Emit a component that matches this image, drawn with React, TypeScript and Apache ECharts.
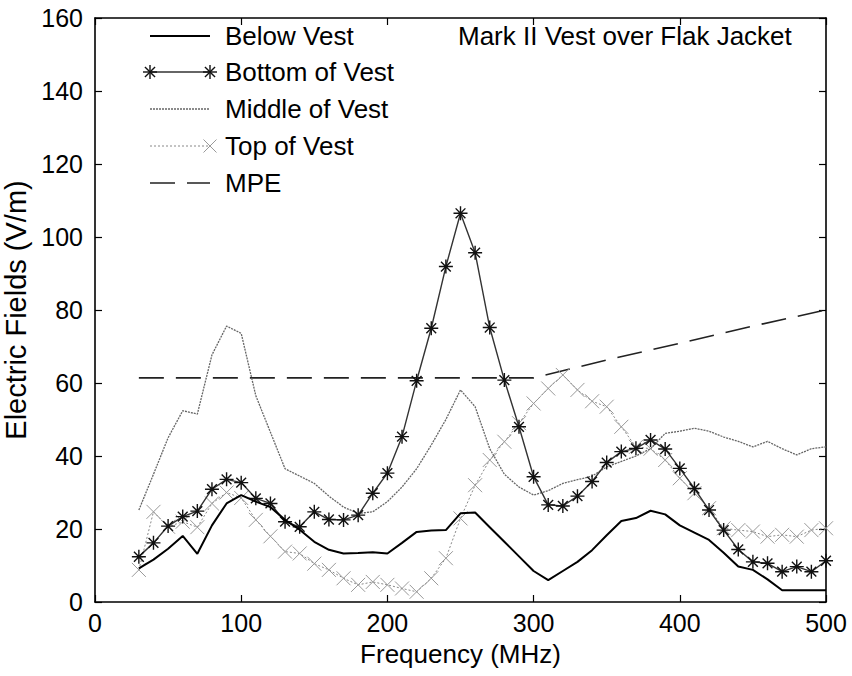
import React, { useEffect, useRef } from 'react';
import * as echarts from 'echarts';

const frequencies = [
  30, 40, 50, 60, 70, 80, 90, 100, 110, 120,
  130, 140, 150, 160, 170, 180, 190, 200, 210, 220,
  230, 240, 250, 260, 270, 280, 290, 300, 310, 320,
  330, 340, 350, 360, 370, 380, 390, 400, 410, 420,
  430, 440, 450, 460, 470, 480, 490, 500,
];
const belowVest = [
  9.2, 11.6, 14.6, 18.1, 13.2, 21, 27, 29.3, 27.5, 26,
  22.5, 19.8, 16.5, 14.3, 13.3, 13.4, 13.6, 13.3, 16.2, 19.2,
  19.6, 19.7, 24.3, 24.5, 20.5, 16.5, 12.5, 8.5, 6, 8.5,
  11, 14.2, 18.3, 22.2, 23, 25, 24, 21, 19, 17,
  13.5, 9.7, 8.8, 6.2, 3.2, 3.2, 3.2, 3.2,
];
const bottomOfVest = [
  12.4, 16.2, 20.8, 23.4, 24.9, 30.9, 33.6, 32.7, 28.4, 27,
  22, 20.6, 24.7, 22.6, 22.5, 23.8, 29.8, 35.3, 45.3, 60.6,
  75, 91.9, 106.5, 95.7, 75.2, 60.8, 48, 34.3, 26.6, 26.3,
  29, 33, 38.2, 41.2, 42.1, 44.4, 41.9, 36.6, 31.1, 25.2,
  19.7, 14.4, 11, 10.6, 8.3, 9.7, 8.3, 11.3,
];
const middleOfVest = [
  25.2, 35, 45, 52.4, 51.5, 67.7, 75.6, 73.6, 56.5, 46.5,
  36.5, 34.5, 32.5, 29, 26, 24.3, 24.7, 27.5, 31.5, 36.5,
  43, 50, 58.1, 53.5, 42, 35, 31.5, 29.3, 30.5, 32.5,
  33.5, 34.5, 37, 38.5, 40, 42, 46.2, 46.8, 47.6, 46.8,
  45.2, 44, 42.5, 44, 42, 40.3, 42, 42.5,
];
const topOfVest = [
  8.8, 24.7, 20.6, 22, 20.5, 27, 30, 28.5, 22.5, 18,
  13.8, 13.3, 10.5, 8.8, 6.5, 4.7, 5.5, 4.7, 3.7, 2.8,
  6.5, 12, 22.9, 32, 38.9, 43.9, 49, 54.4, 58.5, 62.2,
  58.1, 55, 53.5, 48, 42.5, 42, 38.9, 33.9, 29.8, 25.7,
  20.2, 19.7, 19.3, 17.9, 18.4, 17.9, 19.7, 20.2,
];
const mpeFrequencies = [30, 300, 350, 400, 450, 500];
const mpeValues = [61.4, 61.4, 66.3, 70.9, 75.6, 80];

const seriesNames = ['Below Vest', 'Bottom of Vest', 'Middle of Vest', 'Top of Vest', 'MPE'];
const annotation = 'Mark II Vest over Flak Jacket';
const xAxisTitle = 'Frequency (MHz)';
const yAxisTitle = 'Electric Fields (V/m)';

const FONT = '"Liberation Sans", Arial, Helvetica, sans-serif';
const ASTERISK = 'path://M5,0L5,10M0,5L10,5M1.5,1.5L8.5,8.5M1.5,8.5L8.5,1.5';
const CROSS = 'path://M0,0L10,10M0,10L10,0';

const pairs = (xs: number[], ys: number[]) => xs.map((x, i) => [x, ys[i]]);

function asteriskGraphic(cx: number, cy: number, r: number, color: string) {
  const d = r * 0.72;
  const st = { stroke: color, lineWidth: 1.4 };
  return {
    type: 'group',
    children: [
      { type: 'line', shape: { x1: cx - r, y1: cy, x2: cx + r, y2: cy }, style: st },
      { type: 'line', shape: { x1: cx, y1: cy - r, x2: cx, y2: cy + r }, style: st },
      { type: 'line', shape: { x1: cx - d, y1: cy - d, x2: cx + d, y2: cy + d }, style: st },
      { type: 'line', shape: { x1: cx - d, y1: cy + d, x2: cx + d, y2: cy - d }, style: st },
    ],
  };
}
function crossGraphic(cx: number, cy: number, r: number, color: string) {
  const st = { stroke: color, lineWidth: 1 };
  return {
    type: 'group',
    children: [
      { type: 'line', shape: { x1: cx - r, y1: cy - r, x2: cx + r, y2: cy + r }, style: st },
      { type: 'line', shape: { x1: cx - r, y1: cy + r, x2: cx + r, y2: cy - r }, style: st },
    ],
  };
}

export default function App() {
  const ref = useRef<HTMLDivElement>(null);
  useEffect(() => {
    if (!ref.current) return;
    const chart = echarts.init(ref.current, undefined, { renderer: 'svg' });
    const lx1 = 150, lx2 = 210, tx = 225;
    const rows = [36, 72, 109, 146, 183];
    const legendGraphics: any[] = [
      { type: 'line', shape: { x1: lx1, y1: rows[0], x2: lx2, y2: rows[0] }, style: { stroke: '#000', lineWidth: 1.8 } },
      { type: 'line', shape: { x1: lx1, y1: rows[1], x2: lx2, y2: rows[1] }, style: { stroke: '#333', lineWidth: 1.4 } },
      asteriskGraphic(lx1, rows[1], 7, '#111'),
      asteriskGraphic(lx2, rows[1], 7, '#111'),
      { type: 'line', shape: { x1: lx1, y1: rows[2], x2: lx2, y2: rows[2] }, style: { stroke: '#666', lineWidth: 1.3, lineDash: [2, 1] } },
      { type: 'line', shape: { x1: lx1, y1: rows[3], x2: lx2, y2: rows[3] }, style: { stroke: '#888', lineWidth: 1, lineDash: [2, 2] } },
      crossGraphic(lx2, rows[3], 6.5, '#999'),
      { type: 'line', shape: { x1: lx1, y1: rows[4], x2: lx2, y2: rows[4] }, style: { stroke: '#222', lineWidth: 1.6, lineDash: [25, 12] } },
      ...seriesNames.map((n, i) => ({
        type: 'text', x: tx, y: rows[i],
        style: { text: n, font: `26px ${FONT}`, fill: '#000', textVerticalAlign: 'middle', textAlign: 'left' },
      })),
      {
        type: 'text', x: 458, y: rows[0],
        style: { text: annotation, font: `26px ${FONT}`, fill: '#000', textVerticalAlign: 'middle', textAlign: 'left' },
      },
    ];
    const axisCommonX = {
      type: 'value', min: 0, max: 500, interval: 100,
      axisLine: { show: true, onZero: false, lineStyle: { color: '#000', width: 1.6 } },
      axisTick: { show: true, inside: true, length: 7, lineStyle: { color: '#000', width: 1.2 } },
      splitLine: { show: false },
    };
    const axisCommonY = {
      type: 'value', min: 0, max: 160, interval: 20,
      axisLine: { show: true, onZero: false, lineStyle: { color: '#000', width: 1.6 } },
      axisTick: { show: true, inside: true, length: 7, lineStyle: { color: '#000', width: 1.2 } },
      splitLine: { show: false },
    };
    chart.setOption({
      animation: false,
      backgroundColor: '#fff',
      grid: { left: 95, right: 26, top: 18, bottom: 74, containLabel: false, outerBoundsMode: 'none' },
      xAxis: [
        {
          ...axisCommonX, position: 'bottom',
          name: xAxisTitle, nameLocation: 'middle', nameGap: 39,
          nameTextStyle: { fontFamily: FONT, fontSize: 26, color: '#000' },
          axisLabel: { show: true, fontFamily: FONT, fontSize: 25, color: '#000', margin: 8 },
        },
        { ...axisCommonX, position: 'top', axisLabel: { show: false } },
      ],
      yAxis: [
        {
          ...axisCommonY, position: 'left',
          name: yAxisTitle, nameLocation: 'middle', nameGap: 51,
          nameTextStyle: { fontFamily: FONT, fontSize: 29, color: '#000' },
          axisLabel: { show: true, fontFamily: FONT, fontSize: 25, color: '#000', margin: 12 },
        },
        { ...axisCommonY, position: 'right', axisLabel: { show: false } },
      ],
      graphic: legendGraphics,
      series: [
        {
          name: seriesNames[0], type: 'line', data: pairs(frequencies, belowVest),
          showSymbol: false, symbol: 'none',
          lineStyle: { color: '#000', width: 2 }, z: 5,
        },
        {
          name: seriesNames[1], type: 'line', data: pairs(frequencies, bottomOfVest),
          symbol: ASTERISK, symbolSize: 14, showSymbol: true,
          itemStyle: { color: 'none', borderColor: '#111', borderWidth: 1.4 },
          lineStyle: { color: '#333', width: 1.4 }, z: 4,
        },
        {
          name: seriesNames[2], type: 'line', data: pairs(frequencies, middleOfVest),
          symbol: 'none',
          lineStyle: { color: '#666', width: 1.3, type: [2, 1] }, z: 3,
        },
        {
          name: seriesNames[3], type: 'line', data: pairs(frequencies, topOfVest),
          symbol: CROSS, symbolSize: 14, showSymbol: true,
          itemStyle: { color: 'none', borderColor: '#999', borderWidth: 1 },
          lineStyle: { color: '#888', width: 1, type: [2, 2] }, z: 2,
        },
        {
          name: seriesNames[4], type: 'line', data: pairs(mpeFrequencies, mpeValues),
          symbol: 'none',
          lineStyle: { color: '#222', width: 1.6, type: [25, 12] }, z: 1,
        },
      ],
    });
    return () => chart.dispose();
  }, []);
  return <div ref={ref} style={{ position: 'fixed', left: 0, top: 0, width: 852, height: 676 }} />;
}
